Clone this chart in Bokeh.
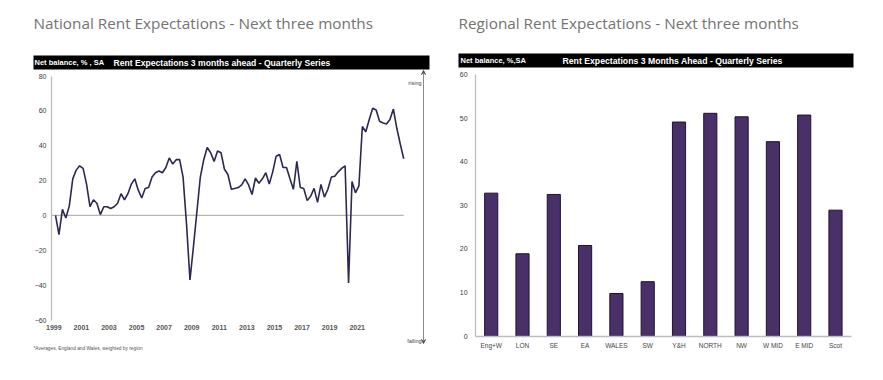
from bokeh.plotting import figure
from bokeh.layouts import row
from bokeh.models import (Range1d, FixedTicker, Label, BoxAnnotation, Arrow, VeeHead,
                          LinearAxis)
from bokeh.embed import file_html
from bokeh.resources import INLINE

# ---------------- data ----------------
national = [0, -11, 3.5, -1.5, 5.5, 21, 26, 28.5, 27, 18,
            5, 9, 7, 0.5, 5, 5, 4, 5, 7, 12.5,
            9, 12.5, 18, 21, 14.5, 10, 15.5, 16, 22, 24.5,
            25.5, 24.5, 27.5, 33, 29.5, 32, 32, 22, -5, -37,
            -18, 2, 22, 32, 39, 36, 31, 37, 36, 26.5,
            23.5, 15, 15.5, 16, 17.5, 21, 17.5, 12, 21.5, 18.5,
            21, 24.5, 18, 25, 34, 35, 27.5, 27.5, 21, 15,
            31, 16, 15.5, 8.5, 11, 15.5, 7.5, 17.8, 10.5, 15,
            22, 22.5, 25, 27, 28.5, -38.7, 19.5, 13, 17, 51,
            48, 55, 61.5, 60.5, 54, 53, 52.5, 55, 61, 50,
            41, 32.5]
first_year = 1999
quarters = [first_year + 0.125 + i / 4 for i in range(len(national))]
year_ticks = [1999, 2001, 2003, 2005, 2007, 2009, 2011, 2013, 2015, 2017, 2019, 2021]
nat_y_ticks = [-60, -40, -20, 0, 20, 40, 60, 80]

regions = ["Eng+W", "LON", "SE", "EA", "WALES", "SW", "Y&H", "NORTH", "NW",
           "W MID", "E MID", "Scot"]
regional = [32.8, 18.9, 32.5, 20.8, 9.8, 12.5, 49.1, 51.1, 50.3, 44.6, 50.7, 28.9]
reg_y_ticks = [0, 10, 20, 30, 40, 50, 60]

TITLE_FONT = "Open Sans"
SMALL_FONT = "Liberation Sans"
TITLE_COLOR = "#737373"
AXIS_GRAY = "#bdbdbd"
TICK_COLOR = "#3a3a3a"
H = 378


def label(p, x, y, text, size, color, font=SMALL_FONT, style="normal",
          align="left", baseline="middle"):
    # x, y: pixels from the top-left corner of the panel
    p.add_layout(Label(x=x, y=H - y, x_units="screen", y_units="screen", text=text,
                       text_font=font, text_font_size=size, text_color=color,
                       text_font_style=style, text_align=align,
                       text_baseline=baseline))


def bar(p, left, right, top, bottom):
    p.add_layout(BoxAnnotation(left=left, right=right, bottom=H - bottom, top=H - top,
                               left_units="screen", right_units="screen",
                               bottom_units="screen", top_units="screen",
                               fill_color="black", fill_alpha=1, line_color=None))


def base_fig(width, x_range, y_range):
    p = figure(width=width, height=H, x_range=x_range, y_range=y_range,
               min_border=0, x_axis_location=None, y_axis_location=None,
               output_backend="svg", toolbar_location=None)
    p.grid.visible = False
    p.outline_line_color = None
    return p


def style_axis(ax, size, color, style="normal", line_color=None, standoff=5):
    ax.axis_line_color = line_color
    ax.axis_line_width = 1.3
    ax.major_tick_line_color = None
    ax.minor_tick_line_color = None
    ax.major_tick_in = 0
    ax.major_tick_out = 0
    ax.minor_tick_in = 0
    ax.minor_tick_out = 0
    ax.major_label_standoff = standoff
    ax.major_label_text_font = SMALL_FONT
    ax.major_label_text_font_size = size
    ax.major_label_text_color = color
    ax.major_label_text_font_style = style


# ---------------- left: national ----------------
px_per_year = 13.79
px_per_unit = 1.743
nat_left = 1999 - 53.3 / px_per_year
nat_top = 80 + 75.5 / px_per_unit
W1 = 440
p1 = base_fig(W1, Range1d(nat_left, nat_left + W1 / px_per_year),
              Range1d(nat_top - H / px_per_unit, nat_top))
axis_x0 = 1999 - 2.3 / px_per_year

yax = LinearAxis(fixed_location=axis_x0, bounds=(nat_y_ticks[0], nat_y_ticks[-1]),
                 ticker=FixedTicker(ticks=nat_y_ticks))
style_axis(yax, "7px", TICK_COLOR, line_color=AXIS_GRAY, standoff=5)
p1.add_layout(yax, "left")

xax = LinearAxis(fixed_location=nat_y_ticks[0], ticker=FixedTicker(ticks=year_ticks))
style_axis(xax, "7px", "#555555", style="bold", standoff=5)
p1.add_layout(xax, "below")

p1.segment(x0=axis_x0, y0=0, x1=quarters[-1], y1=0,
           line_color="#b5b5bd", line_width=1.3)
p1.line(quarters, national, line_color="#2b2952", line_width=1.6)

label(p1, 33, 22.5, "National Rent Expectations - Next three months", "15.3px",
      TITLE_COLOR, font=TITLE_FONT)
bar(p1, 33, 429, 55, 69)
label(p1, 34, 62, "Net balance, % , SA", "7.5px", "white", style="bold")
label(p1, 113, 62, "Rent Expectations 3 months ahead - Quarterly Series", "8.6px",
      "white", style="bold")

p1.add_layout(Arrow(x_start=423, y_start=H - 343, x_end=423, y_end=H - 70,
                    start_units="screen", end_units="screen",
                    line_color="#8a8a8a", line_width=1,
                    start=VeeHead(size=4, line_color="#555555", line_width=1),
                    end=VeeHead(size=4, line_color="#555555", line_width=1)))
label(p1, 421, 82, "rising", "5.5px", "#444444", align="right")
label(p1, 421, 340, "falling", "5.5px", "#444444", align="right")
label(p1, 33, 348, "*Averages, England and Wales, weighted by region", "4.8px",
      "#555555")

# ---------------- right: regional ----------------
px_per_cat = 31.3
px_per_pct = 4.362
W2 = 441
reg_left = -50.7 / px_per_cat
reg_top = 60 + 74 / px_per_pct
p2 = base_fig(W2, Range1d(reg_left, reg_left + W2 / px_per_cat),
              Range1d(reg_top - H / px_per_pct, reg_top))
positions = list(range(len(regions)))

p2.vbar(x=positions, top=regional, width=0.42, fill_color="#4a3068",
        line_color="#1d1230", line_width=1)

yax2 = LinearAxis(fixed_location=-0.5, bounds=(reg_y_ticks[0], reg_y_ticks[-1]),
                  ticker=FixedTicker(ticks=reg_y_ticks))
style_axis(yax2, "7px", TICK_COLOR, line_color=AXIS_GRAY, standoff=8)
p2.add_layout(yax2, "left")

xax2 = LinearAxis(fixed_location=0, bounds=(-0.5, len(regions) - 0.5),
                  ticker=FixedTicker(ticks=positions),
                  major_label_overrides={i: r for i, r in enumerate(regions)})
style_axis(xax2, "6.5px", "#444444", line_color=AXIS_GRAY, standoff=6)
p2.add_layout(xax2, "below")

label(p2, 18, 22.5, "Regional Rent Expectations - Next three months", "15.3px",
      TITLE_COLOR, font=TITLE_FONT)
bar(p2, 18, 413, 53, 67)
label(p2, 20, 60, "Net balance, %,SA", "7.5px", "white", style="bold")
label(p2, 122, 60, "Rent Expectations 3 Months Ahead - Quarterly Series", "8.7px",
      "white", style="bold")

layout = row(p1, p2)
open("out.html", "w").write(file_html(layout, INLINE))
